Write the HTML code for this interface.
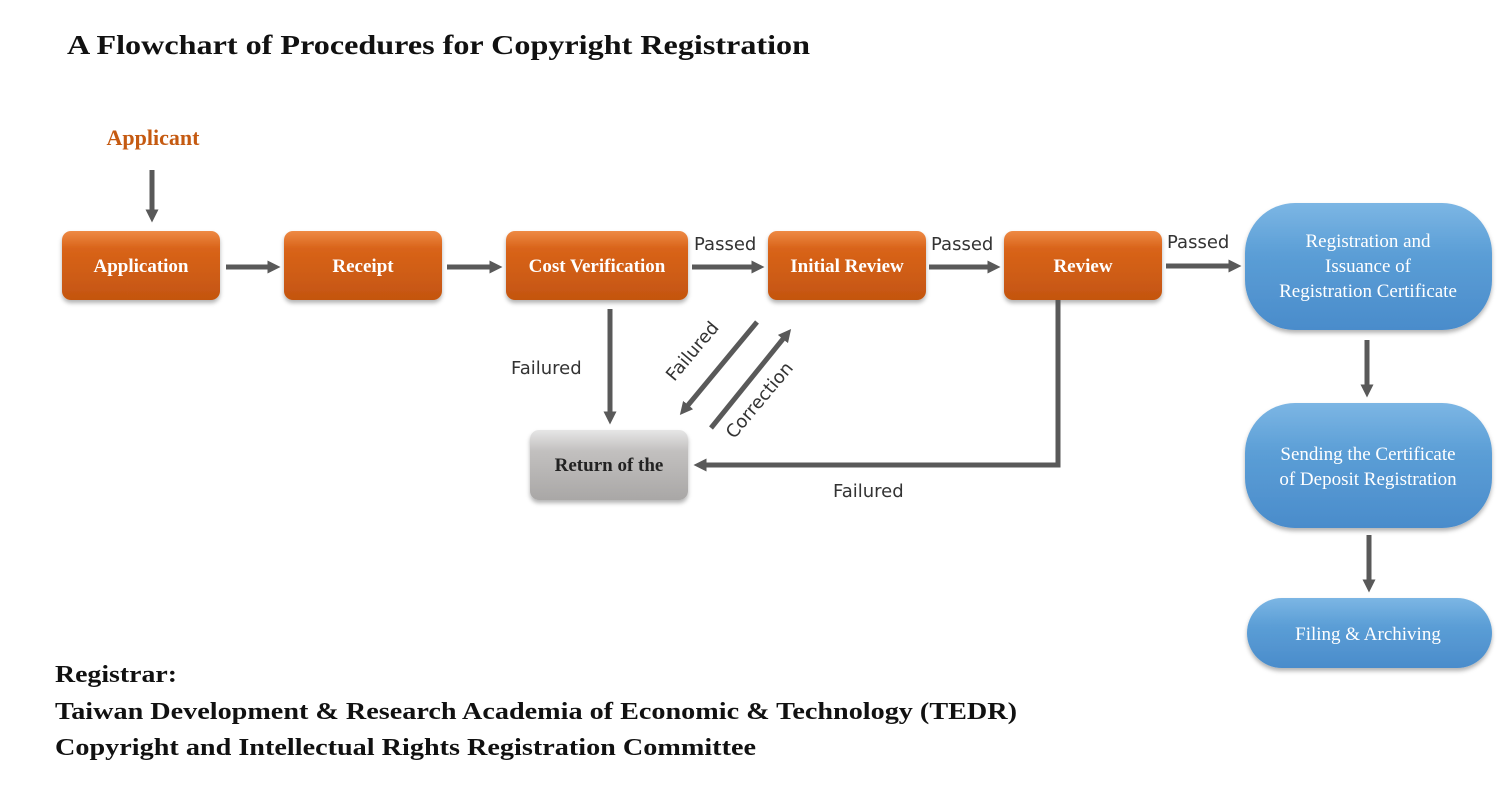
<!DOCTYPE html>
<html><head><meta charset="utf-8"><style>
html,body{margin:0;padding:0;background:#fff;width:1500px;height:786px;overflow:hidden}
svg{display:block}
.bx{font-family:"Liberation Serif",serif;font-weight:bold;font-size:19px;fill:#fff;text-anchor:middle}
.bl{font-family:"Liberation Serif",serif;font-size:19px;fill:#fff;text-anchor:middle}
.lb{font-family:"DejaVu Sans","Liberation Sans",sans-serif;font-size:18px;fill:#333}
.hd{font-family:"Liberation Serif",serif;font-weight:bold;fill:#111}
</style></head><body>
<svg width="1500" height="786" viewBox="0 0 1500 786" xmlns="http://www.w3.org/2000/svg">
<defs>
<linearGradient id="og" x1="0" y1="0" x2="0" y2="1">
<stop offset="0" stop-color="#ee8a45"/><stop offset="0.25" stop-color="#d9641a"/><stop offset="1" stop-color="#c45510"/></linearGradient>
<linearGradient id="gg" x1="0" y1="0" x2="0" y2="1">
<stop offset="0" stop-color="#e6e6e6"/><stop offset="0.3" stop-color="#c2c0bf"/><stop offset="1" stop-color="#a9a7a6"/></linearGradient>
<linearGradient id="bg" x1="0" y1="0" x2="0" y2="1">
<stop offset="0" stop-color="#7cb6e4"/><stop offset="0.4" stop-color="#5b9ed6"/><stop offset="1" stop-color="#4a8ccb"/></linearGradient>
<filter id="sh" x="-10%" y="-10%" width="120%" height="130%"><feDropShadow dx="0" dy="3" stdDeviation="2" flood-color="#000" flood-opacity="0.3"/></filter>
<marker id="ah" markerWidth="2.6" markerHeight="2.6" refX="1.3" refY="1.3" orient="auto" markerUnits="strokeWidth"><path d="M0,0 L2.6,1.3 L0,2.6 Z" fill="#595959"/></marker>
</defs>

<text class="hd" x="67" y="54" font-size="27" textLength="743" lengthAdjust="spacingAndGlyphs">A Flowchart of Procedures for Copyright Registration</text>
<text x="153" y="145" text-anchor="middle" font-family="Liberation Serif,serif" font-weight="bold" font-size="22" fill="#c55a11">Applicant</text>

<g fill="url(#og)" filter="url(#sh)">
<rect x="62" y="231" width="158" height="69" rx="9"/>
<rect x="284" y="231" width="158" height="69" rx="9"/>
<rect x="506" y="231" width="182" height="69" rx="9"/>
<rect x="768" y="231" width="158" height="69" rx="9"/>
<rect x="1004" y="231" width="158" height="69" rx="9"/>
</g>
<rect x="530" y="430" width="158" height="70" rx="9" fill="url(#gg)" filter="url(#sh)"/>
<g fill="url(#bg)" filter="url(#sh)">
<rect x="1245" y="203" width="247" height="127" rx="50"/>
<rect x="1245" y="403" width="247" height="125" rx="50"/>
<rect x="1247" y="598" width="245" height="70" rx="35"/>
</g>

<text class="bx" x="141" y="272">Application</text>
<text class="bx" x="363" y="272">Receipt</text>
<text class="bx" x="597" y="272">Cost Verification</text>
<text class="bx" x="847" y="272">Initial Review</text>
<text class="bx" x="1083" y="272">Review</text>
<text class="bx" x="609" y="471" style="fill:#222">Return of the</text>
<text class="bl" x="1368" y="247">Registration and</text>
<text class="bl" x="1368" y="272">Issuance of</text>
<text class="bl" x="1368" y="297">Registration Certificate</text>
<text class="bl" x="1368" y="460">Sending the Certificate</text>
<text class="bl" x="1368" y="485">of Deposit Registration</text>
<text class="bl" x="1368" y="640">Filing &amp; Archiving</text>

<g stroke="#595959" stroke-width="5" fill="none" marker-end="url(#ah)">
<line x1="152" y1="170" x2="152" y2="216"/>
<line x1="226" y1="267" x2="274" y2="267"/>
<line x1="447" y1="267" x2="496" y2="267"/>
<line x1="692" y1="267" x2="758" y2="267"/>
<line x1="929" y1="267" x2="994" y2="267"/>
<line x1="1166" y1="266" x2="1235" y2="266"/>
<line x1="610" y1="309" x2="610" y2="418"/>
<line x1="757" y1="322" x2="684" y2="410"/>
<line x1="711" y1="428" x2="787" y2="334"/>
<polyline points="1058,300 1058,465 700,465"/>
<line x1="1367" y1="340" x2="1367" y2="391"/>
<line x1="1369" y1="535" x2="1369" y2="586"/>
</g>

<text class="lb" x="694" y="250">Passed</text>
<text class="lb" x="931" y="250">Passed</text>
<text class="lb" x="1167" y="248">Passed</text>
<text class="lb" x="511" y="374">Failured</text>
<text class="lb" x="833" y="497">Failured</text>
<text class="lb" x="697" y="355" text-anchor="middle" transform="rotate(-50 697 355)">Failured</text>
<text class="lb" x="764" y="404" text-anchor="middle" transform="rotate(-50 764 404)">Correction</text>

<text class="hd" x="55" y="682" font-size="24" textLength="122" lengthAdjust="spacingAndGlyphs">Registrar:</text>
<text class="hd" x="55" y="719" font-size="24" textLength="962" lengthAdjust="spacingAndGlyphs">Taiwan Development &amp; Research Academia of Economic &amp; Technology (TEDR)</text>
<text class="hd" x="55" y="755" font-size="24" textLength="701" lengthAdjust="spacingAndGlyphs">Copyright and Intellectual Rights Registration Committee</text>
</svg>
</body></html>
